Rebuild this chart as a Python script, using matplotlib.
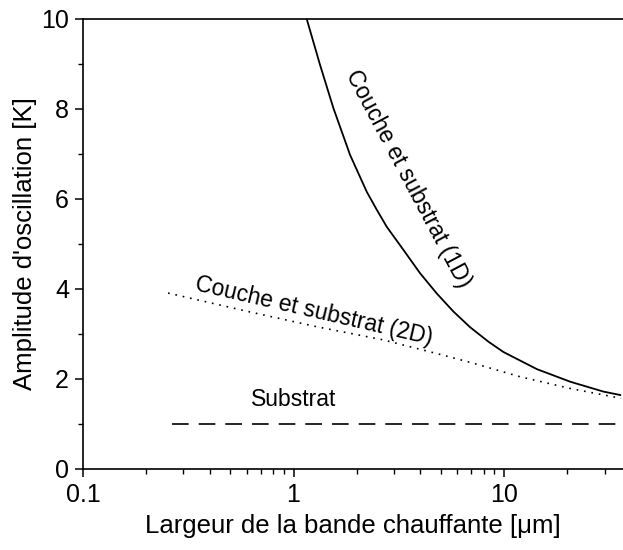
import numpy as np
import matplotlib
matplotlib.use("Agg")
import matplotlib.pyplot as plt
from matplotlib.ticker import LogLocator, FixedLocator, NullFormatter, FuncFormatter

plt.rcParams['font.family'] = ['Liberation Sans', 'DejaVu Sans']

# Data
x_1d = [1.155, 1.336, 1.546, 1.855, 2.227, 2.485, 2.773, 3.324, 3.990, 4.790,
        5.742, 6.896, 8.420, 9.924, 14.30, 20.59, 29.64, 35.96]
y_1d = [10.0, 8.98, 8.02, 6.98, 6.16, 5.76, 5.38, 4.87, 4.35, 3.90,
        3.50, 3.15, 2.83, 2.60, 2.22, 1.94, 1.72, 1.64]

x_2d = [0.2535, 0.621, 1.294, 2.661, 5.129, 7.145, 11.91, 20.59, 35.96]
y_2d = [3.91, 3.49, 3.16, 2.87, 2.53, 2.35, 2.05, 1.79, 1.57]

x_sub = [0.265, 36.7]
y_sub = [1.0, 1.0]

x_ticks = [0.1, 1, 10]
y_ticks = [0, 2, 4, 6, 8, 10]

fig = plt.figure(figsize=(6.23, 5.5), dpi=100)
ax = fig.add_axes([83/623, 1 - 469/550, 540/623, 450/550])

ax.plot(x_1d, y_1d, color='black', lw=1.3, solid_capstyle='butt', solid_joinstyle='round')
ax.plot(x_2d, y_2d, color='black', lw=1.2, linestyle=(0, (1, 3.5)))
ax.plot(x_sub, y_sub, color='black', lw=1.2, linestyle=(0, (10, 6)))

ax.set_xscale('log')
ax.set_xlim(0.1, 36.7)
ax.set_ylim(0, 10)

ax.xaxis.set_major_locator(FixedLocator(x_ticks))
ax.xaxis.set_major_formatter(FuncFormatter(lambda v, p: f"{v:g}"))
ax.xaxis.set_minor_locator(LogLocator(base=10, subs=np.arange(2, 10)))
ax.xaxis.set_minor_formatter(NullFormatter())
ax.yaxis.set_major_locator(FixedLocator(y_ticks))
ax.yaxis.set_minor_locator(FixedLocator([1, 3, 5, 7, 9]))

ax.spines['right'].set_visible(False)
for s in ['left', 'bottom', 'top']:
    ax.spines[s].set_linewidth(1.2)
    ax.spines[s].set_color('black')

ax.tick_params(which='major', direction='out', length=6, width=1.1, labelsize=18, pad=4)
ax.tick_params(which='minor', direction='out', length=3.5, width=1.0)
ax.tick_params(top=False, right=False)

ax.set_xlabel("Largeur de la bande chauffante [\u03bcm]", fontsize=18.5, labelpad=5)
ax.set_ylabel("Amplitude d'oscillation [K]", fontsize=18.5, labelpad=3)

ax.text(1.0, 1.55, "Substrat", fontsize=16.5, ha='center', va='center')
ax.text(1.25, 3.5, "Couche et substrat (2D)", fontsize=16.5, ha='center', va='center', rotation=-13)
ax.text(3.5, 6.45, "Couche et substrat (1D)", fontsize=16.5, ha='center', va='center', rotation=-62)

fig.savefig("out.png", dpi=100)
